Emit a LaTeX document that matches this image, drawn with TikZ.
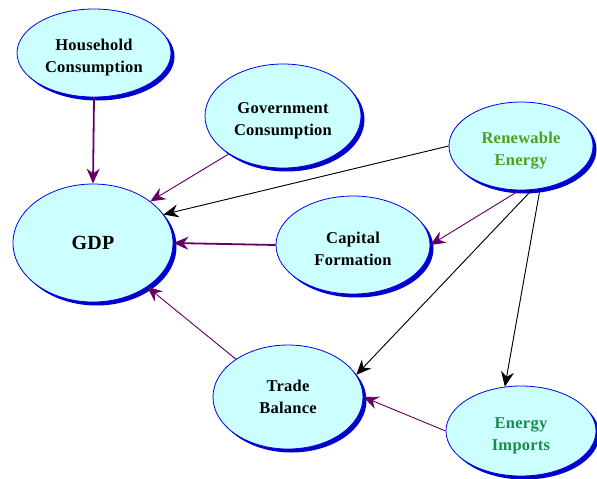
\documentclass[tikz,border=0pt]{standalone}
\usepackage{fontspec}
\setmainfont[LetterSpace=1.5]{Liberation Serif}
\usetikzlibrary{shapes.geometric,shadows,arrows.meta}

\definecolor{cellfill}{RGB}{204,255,255}
\definecolor{cellline}{RGB}{0,0,235}
\definecolor{cellshadow}{RGB}{0,0,200}
\definecolor{linkpurple}{RGB}{102,0,102}
\definecolor{renewgreen}{RGB}{77,160,25}
\definecolor{importgreen}{RGB}{26,140,74}

% strut that pushes two-line labels a little lower in the ellipse
\newcommand{\dropline}{\rule{0pt}{20pt}}

\tikzset{every picture/.style={line width=0.75pt}}
\tikzset{
  factor/.style={ellipse, draw=cellline, line width=0.8pt, fill=cellfill, inner sep=0pt,
    align=center, font=\fontsize{16.5}{22}\selectfont\bfseries,
    drop shadow={shadow xshift=3.5pt, shadow yshift=-3.5pt, fill=cellshadow, opacity=1}},
  tip/.style={-{Stealth[length=15pt,width=13pt,inset=5pt]}},
  heavylink/.style={tip, draw=linkpurple, fill=linkpurple, line width=1.8pt},
  lightlink/.style={tip, draw=linkpurple, fill=linkpurple, line width=0.9pt},
  blacklink/.style={tip, draw=black, fill=black, line width=0.9pt},
}

\begin{document}
\begin{tikzpicture}[x=1pt,y=1pt,yscale=-1,xscale=1]
	\useasboundingbox (0,0) rectangle (597,479);
	
	%Shape: Ellipse [household]
	\node [factor, minimum width=154, minimum height=88] (hh) at (94,53) {\dropline Household\\Consumption};
	%Shape: Ellipse [government]
	\node [factor, minimum width=156, minimum height=104] (gov) at (283,116) {\dropline Government\\Consumption};
	%Shape: Ellipse [renewable]
	\node [factor, minimum width=144, minimum height=88, text=renewgreen] (ren) at (521,146) {\dropline Renewable\\Energy};
	%Shape: Ellipse [gdp]
	\node [factor, minimum width=160, minimum height=118, font=\fontsize{20}{24}\selectfont\bfseries] (gdp) at (93,243) {GDP};
	%Shape: Ellipse [capital]
	\node [factor, minimum width=154, minimum height=98] (cap) at (353,245) {\dropline Capital\\Formation};
	%Shape: Ellipse [trade]
	\node [factor, minimum width=150, minimum height=104] (trade) at (288,397) {Trade\\Balance};
	%Shape: Ellipse [imports]
	\node [factor, minimum width=150, minimum height=90, text=importgreen] (imp) at (521,431) {\dropline Energy\\Imports};
	
	%Straight Lines [to gdp]
	\draw [heavylink] (hh.south) -- (gdp.north);
	\draw [lightlink] (gov.215) -- (gdp.36);
	\draw [blacklink] (ren.180) -- (gdp.22);
	\draw [heavylink] (cap.180) -- (gdp.0);
	\draw [lightlink] (trade.144) -- (gdp.-39);
	%Straight Lines [from renewable]
	\draw [lightlink] (ren.-92) -- (cap.0);
	\draw [blacklink] (ren.-76) -- (trade.18);
	\draw [blacklink] (ren.-66) -- (imp.110);
	%Straight Lines [to trade]
	\draw [lightlink] (imp.180) -- (trade.0);
	
\end{tikzpicture}
\end{document}
